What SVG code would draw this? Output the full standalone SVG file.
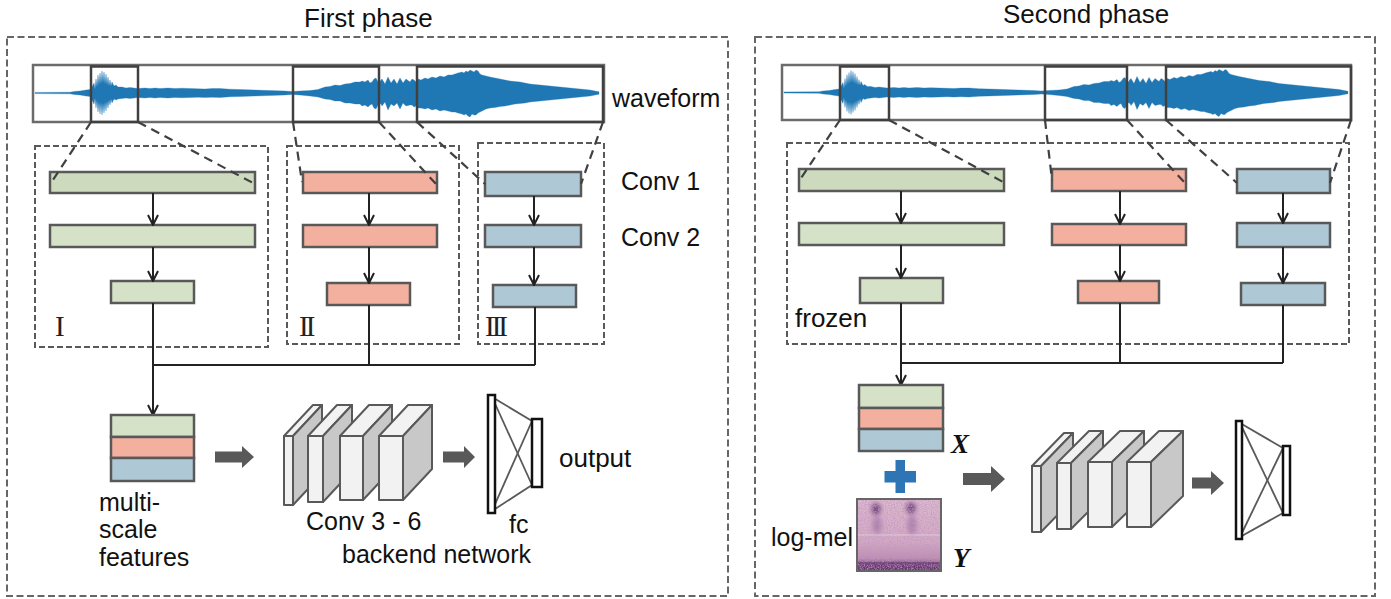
<svg xmlns="http://www.w3.org/2000/svg" width="1391" height="599" viewBox="0 0 1391 599">
<style>
.t{font-family:"Liberation Sans",Arial,sans-serif;font-size:25px;fill:#111}
.title{font-size:26px}
.rom{font-family:"Liberation Serif","Times New Roman",serif;font-size:29px;fill:#222;letter-spacing:-3px}
.xy{font-family:"Liberation Serif","Times New Roman",serif;font-size:27px;font-weight:bold;font-style:italic;fill:#111}
.panel{fill:none;stroke:#666;stroke-width:2;stroke-dasharray:7 3.5}
.sub{fill:none;stroke:#595959;stroke-width:2;stroke-dasharray:6 3}
.g1{fill:#cddabd;stroke:#595959;stroke-width:2.5}
.g{fill:#d5e2c7;stroke:#595959;stroke-width:2.5}
.r{fill:#f4b09f;stroke:#595959;stroke-width:2.5}
.b{fill:#afc8d6;stroke:#595959;stroke-width:2.5}
.wbox{fill:#fff;stroke:#6b6b6b;stroke-width:2.5}
.sel{fill:none;stroke:#404040;stroke-width:2.5}
.zoom{fill:none;stroke:#404040;stroke-width:2.2;stroke-dasharray:9 6}
.con{fill:none;stroke:#222;stroke-width:2}
.arr{marker-end:url(#ah)}
.front{fill:#f2f2f2;stroke:#595959;stroke-width:2;stroke-linejoin:round}
.side{fill:#c8c8c8;stroke:#595959;stroke-width:2;stroke-linejoin:round}
.garrow{fill:#595959}
.fcr{fill:#fff;stroke:#111;stroke-width:2.5}
.fcl{stroke:#595959;stroke-width:1.8}
.wave{fill:#1f77b4;stroke:#1f77b4;stroke-width:0.5;stroke-opacity:0.6}
</style>
<defs>
<marker id="ah" markerUnits="userSpaceOnUse" viewBox="0 0 12 12" refX="11" refY="6" markerWidth="12" markerHeight="12" orient="auto">
<path d="M1,1 L11,6 L1,11" fill="none" stroke="#222" stroke-width="2"/>
</marker>
<path id="wave" class="wave" d="M35,92.4 L70,92.2 74,91.5 80,91 86,90 90,89.5 92,87 94,83 95,89 96,79 97,87 98,75 99,85 100,73 101,84 102,71 103,83 104,72 105,84 106,74 107,85 108,77 109,86 110,80 111,86 112,82 114,86 116,85 118,87 122,87 126,88 130,87.5 134,88 138,88.5 145,88 150,88.5 155,88 160,88.5 168,88 175,88.5 182,88.2 190,88.5 198,88.8 205,89 212,88.6 220,88.5 230,89.2 240,89.5 248,89.8 255,90 262,90.3 270,90.5 278,90.8 285,91 292,91.5 300,91 310,90.5 318,89.5 325,87 330,86.5 335,85 340,85.5 345,84 350,83.5 355,82 360,82 362,81 365,82 368,80 370,83 372,82 374,79 376,78 378,82 379,83 381,80 382,79 385,84 388,77 391,83 394,79 397,84 400,78 403,83 406,79 410,82 412,79 414,80 416,82 418,79 421,80 425,78 428,79 432,77 436,78 440,76 444,77 448,75 452,75 455,74 458,73 462,72 464,73 466,71 468,72 470,70 472,71 474,72 476,70 478,71 480,74 482,75 486,76 490,77 495,78 500,79 505,80 510,81 515,81.5 520,82 525,83 530,84 535,84.5 540,85 545,85.5 550,86 555,86.5 560,87 565,87.5 570,88 575,88.5 580,89 585,89.5 590,90 595,91 599,91.8 L599,94.2 595,95 590,96 585,96.5 580,97 575,97.5 570,98 565,98.5 560,99 555,99.5 550,100 545,100.5 540,101 535,101.5 530,102 525,103 520,103.5 515,104 510,105 505,106 500,106.5 495,107.5 490,108 486,109 482,111 480,112 478,113 476,115 474,115 472,114 470,117 468,116 466,114 464,115 462,114 458,113 455,112 452,112 448,111 444,110 440,111 436,109 432,110 428,108 425,109 421,108 418,108 416,106 414,107 412,105 410,105 406,106 403,103 400,109 397,103 394,106 391,104 388,110 385,102 382,106 381,104 379,103 378,105 376,109 374,108 372,104 370,105 368,107 365,105 362,106 360,104 355,104 350,103 345,103 340,101 335,101 330,99.5 325,99 318,97 310,96 300,95 292,94.5 285,95 278,95.2 270,95.5 262,95.8 255,96 248,96.2 240,96.5 230,96.8 220,97.5 212,97.2 205,97.5 198,97.2 190,97.5 182,97.8 175,97.5 168,98 160,97.5 155,98 150,97.5 145,98 138,97.5 134,98 130,98.5 126,98 122,98.5 118,99 116,100 114,99 112,103 111,99 110,105 109,100 108,108 107,101 106,111 105,102 104,113 103,103 102,115 101,102 100,114 99,102 98,112 97,100 96,108 95,98 94,104 92,100 90,96.5 86,96 80,95 74,94.5 70,93.8 35,93.6 Z"/>
<linearGradient id="specgrad" x1="0" y1="0" x2="0" y2="1">
<stop offset="0" stop-color="#dcbccd"/>
<stop offset="0.6" stop-color="#d2aac2"/>
<stop offset="0.82" stop-color="#bb8db0"/>
<stop offset="1" stop-color="#6e3e76"/>
</linearGradient>
<clipPath id="specclip"><rect x="857" y="499" width="84" height="72"/></clipPath>
<filter id="blur" x="-50%" y="-50%" width="200%" height="200%"><feGaussianBlur stdDeviation="2"/></filter>
<filter id="noise" x="0" y="0" width="100%" height="100%">
<feTurbulence type="fractalNoise" baseFrequency="0.7" numOctaves="2" seed="4"/>
<feColorMatrix type="matrix" values="0 0 0 0 0.55  0 0 0 0 0.3  0 0 0 0 0.55  2 0 0 0 -0.75"/>
</filter>
</defs>

<!-- panels -->
<g id="panel-first">
<rect class="panel" x="7" y="37" width="721" height="559"/>
<text class="t title" x="304" y="27">First phase</text>
</g>
<g id="panel-second">
<rect class="panel" x="755" y="37" width="620" height="559"/>
<text class="t title" x="1003" y="23">Second phase</text>
</g>

<!-- left waveform -->
<g id="waveform-1">
<rect class="wbox" x="33" y="65" width="571" height="57"/>
<use href="#wave"/>
<rect class="sel" x="91" y="66.5" width="47" height="55.5"/>
<rect class="sel" x="293" y="66.5" width="86" height="55.5"/>
<rect class="sel" x="417" y="66.5" width="186" height="55.5"/>
<text class="t" x="612" y="107">waveform</text>
</g>

<!-- right waveform -->
<g id="waveform-2">
<rect class="wbox" x="782" y="65" width="569" height="55"/>
<use href="#wave" transform="translate(749,-0.5)"/>
<rect class="sel" x="840" y="66.5" width="49" height="53.5"/>
<rect class="sel" x="1045" y="66.5" width="82" height="53.5"/>
<rect class="sel" x="1166" y="66.5" width="185" height="53.5"/>
</g>

<!-- sub boxes -->
<g id="box-I"><rect class="sub" x="35" y="146" width="233" height="201"/><text class="rom" x="55" y="336">I</text></g>
<g id="box-II"><rect class="sub" x="287" y="146" width="172" height="198"/><text class="rom" x="299" y="336">II</text></g>
<g id="box-III"><rect class="sub" x="478" y="143" width="126" height="201"/><text class="rom" x="485" y="336">III</text></g>
<g id="box-frozen"><rect class="sub" x="787" y="143" width="562" height="201"/><text class="t" x="795" y="327" style="font-size:26px">frozen</text></g>

<!-- left branch nodes -->
<g id="L-green-conv1"><rect class="g1" x="50" y="172" width="205" height="21"/></g>
<g id="L-green-conv2"><rect class="g" x="50" y="225" width="205" height="22"/></g>
<g id="L-green-out"><rect class="g" x="111" y="281" width="83" height="22"/></g>
<g id="L-red-conv1"><rect class="r" x="303" y="172" width="134" height="21"/></g>
<g id="L-red-conv2"><rect class="r" x="303" y="225" width="134" height="22"/></g>
<g id="L-red-out"><rect class="r" x="327" y="283" width="83" height="22"/></g>
<g id="L-blue-conv1"><rect class="b" x="485" y="172" width="96" height="24"/></g>
<g id="L-blue-conv2"><rect class="b" x="485" y="225" width="96" height="22"/></g>
<g id="L-blue-out"><rect class="b" x="493" y="285" width="83" height="22"/></g>
<g id="labels-conv"><text class="t" x="621" y="190">Conv 1</text><text class="t" x="621" y="246">Conv 2</text></g>

<!-- right branch nodes -->
<g id="R-green-conv1"><rect class="g1" x="799" y="169" width="205" height="22"/></g>
<g id="R-green-conv2"><rect class="g" x="799" y="223" width="205" height="22"/></g>
<g id="R-green-out"><rect class="g" x="860" y="278" width="83" height="25"/></g>
<g id="R-red-conv1"><rect class="r" x="1052" y="169" width="134" height="22"/></g>
<g id="R-red-conv2"><rect class="r" x="1052" y="224" width="134" height="21"/></g>
<g id="R-red-out"><rect class="r" x="1078" y="281" width="81" height="22"/></g>
<g id="R-blue-conv1"><rect class="b" x="1237" y="169" width="93" height="24"/></g>
<g id="R-blue-conv2"><rect class="b" x="1237" y="223" width="93" height="24"/></g>
<g id="R-blue-out"><rect class="b" x="1241" y="283" width="84" height="22"/></g>

<!-- connectors -->
<g id="connectors">
<line class="zoom" x1="91" y1="122" x2="51" y2="183"/>
<line class="zoom" x1="138" y1="122" x2="255" y2="184"/>
<line class="zoom" x1="293" y1="122" x2="302" y2="182"/>
<line class="zoom" x1="379" y1="122" x2="436" y2="184"/>
<line class="zoom" x1="417" y1="122" x2="485" y2="184"/>
<line class="zoom" x1="603" y1="122" x2="581" y2="184"/>
<line class="zoom" x1="840" y1="120" x2="799" y2="181"/>
<line class="zoom" x1="889" y1="120" x2="1003" y2="182"/>
<line class="zoom" x1="1045" y1="120" x2="1052" y2="180"/>
<line class="zoom" x1="1127" y1="120" x2="1185" y2="183"/>
<line class="zoom" x1="1166" y1="120" x2="1237" y2="183"/>
<line class="zoom" x1="1351" y1="120" x2="1330" y2="183"/>

<line class="con arr" x1="153" y1="193" x2="153" y2="225"/>
<line class="con arr" x1="153" y1="247" x2="153" y2="281"/>
<line class="con arr" x1="369" y1="193" x2="369" y2="225"/>
<line class="con arr" x1="369" y1="247" x2="369" y2="283"/>
<line class="con arr" x1="534" y1="196" x2="534" y2="225"/>
<line class="con arr" x1="534" y1="247" x2="534" y2="285"/>
<line class="con arr" x1="153" y1="303" x2="153" y2="415"/>
<line class="con" x1="369" y1="305" x2="369" y2="365"/>
<line class="con" x1="535" y1="307" x2="535" y2="365"/>
<line class="con" x1="153" y1="365" x2="535" y2="365"/>

<line class="con arr" x1="901" y1="191" x2="901" y2="223"/>
<line class="con arr" x1="901" y1="245" x2="901" y2="278"/>
<line class="con arr" x1="1120" y1="191" x2="1120" y2="224"/>
<line class="con arr" x1="1120" y1="245" x2="1120" y2="281"/>
<line class="con arr" x1="1283" y1="193" x2="1283" y2="223"/>
<line class="con arr" x1="1283" y1="247" x2="1283" y2="283"/>
<line class="con arr" x1="901" y1="303" x2="901" y2="385"/>
<line class="con" x1="1120" y1="303" x2="1120" y2="363"/>
<line class="con" x1="1283" y1="305" x2="1283" y2="363"/>
<line class="con" x1="901" y1="363" x2="1283" y2="363"/>

<polygon class="garrow" points="215,451.5 242,451.5 242,446 254,457 242,468 242,462.5 215,462.5"/>
<polygon class="garrow" points="443,451.5 464,451.5 464,446 475,457 464,468 464,462.5 443,462.5"/>
<polygon class="garrow" points="963,473 991,473 991,466 1005,479 991,492 991,485 963,485"/>
<polygon class="garrow" points="1192,477.5 1211,477.5 1211,471 1224,483 1211,495 1211,488.5 1192,488.5"/>
</g>

<!-- left multi-scale stack -->
<g id="L-stack">
<rect class="g" x="111" y="415" width="83" height="22"/>
<rect class="r" x="111" y="437" width="83" height="21"/>
<rect class="b" x="111" y="458" width="83" height="23"/>
<text class="t" x="99" y="511">multi-</text>
<text class="t" x="99" y="538">scale</text>
<text class="t" x="99" y="566">features</text>
</g>

<!-- left backend -->
<g id="L-backend">
<polygon class="front" points="284,436 313,405 322,405 293,436"/>
<polygon class="side" points="293,436 322,405 322,474 293,505"/>
<rect class="front" x="284" y="436" width="9" height="69"/>
<polygon class="front" points="308,436 337,405 352,405 323,436"/>
<polygon class="side" points="323,436 352,405 352,471 323,502"/>
<rect class="front" x="308" y="436" width="15" height="66"/>
<polygon class="front" points="340,436 369,405 392,405 363,436"/>
<polygon class="side" points="363,436 392,405 392,469 363,500"/>
<rect class="front" x="340" y="436" width="23" height="64"/>
<polygon class="front" points="379,436 408,405 432,405 403,436"/>
<polygon class="side" points="403,436 432,405 432,469 403,500"/>
<rect class="front" x="379" y="436" width="24" height="64"/>
<text class="t" x="306" y="530">Conv 3 - 6</text>
<text class="t" x="342" y="563">backend network</text>
</g>

<g id="L-fc">
<line class="fcl" x1="492" y1="397" x2="532" y2="421"/>
<line class="fcl" x1="492" y1="397" x2="532" y2="485"/>
<line class="fcl" x1="492" y1="511" x2="532" y2="421"/>
<line class="fcl" x1="492" y1="511" x2="532" y2="485"/>
<rect class="fcr" x="488" y="395" width="7" height="118"/>
<rect class="fcr" x="532" y="419" width="10" height="68"/>
<text class="t" x="509" y="533">fc</text>
<text class="t" x="559" y="467" style="font-size:26px">output</text>
</g>

<!-- right inputs -->
<g id="R-stack">
<rect class="g" x="859" y="385" width="84" height="23"/>
<rect class="r" x="859" y="408" width="84" height="21"/>
<rect class="b" x="859" y="429" width="84" height="22"/>
<text class="xy" x="951" y="453">X</text>
</g>
<g id="plus">
<rect x="884.5" y="471" width="31.5" height="11.5" fill="#2e75b6"/>
<rect x="895.5" y="460" width="9.5" height="33" fill="#2e75b6"/>
</g>
<g id="logmel">
<rect x="857" y="499" width="84" height="72" fill="url(#specgrad)"/>
<g clip-path="url(#specclip)">
<g filter="url(#blur)">
<ellipse cx="876" cy="509" rx="5" ry="6" fill="#5d2c69" opacity="0.8"/>
<ellipse cx="877" cy="525" rx="5" ry="9" fill="#8b5b93" opacity="0.55"/>
<ellipse cx="911" cy="508" rx="5" ry="6" fill="#5d2c69" opacity="0.8"/>
<ellipse cx="912" cy="525" rx="5" ry="10" fill="#8b5b93" opacity="0.55"/>
<rect x="855" y="563" width="88" height="10" fill="#5a2b65" opacity="0.75"/>
</g>
<rect x="857" y="499" width="84" height="72" filter="url(#noise)"/>
<line x1="857" y1="535" x2="941" y2="535" stroke="#f0e0ea" stroke-width="0.8" opacity="0.7"/>
<line x1="857" y1="563" x2="941" y2="563" stroke="#4a2055" stroke-width="1.2" opacity="0.7"/>
</g>
<rect x="857" y="499" width="84" height="72" fill="none" stroke="#666" stroke-width="2"/>
<text class="t" x="771" y="546">log-mel</text>
<text class="xy" x="953" y="567">Y</text>
</g>

<!-- right backend -->
<g id="R-backend">
<polygon class="front" points="1032,466 1064,433 1073,433 1041,466"/>
<polygon class="side" points="1041,466 1073,433 1073,499 1041,532"/>
<rect class="front" x="1032" y="466" width="9" height="66"/>
<polygon class="front" points="1057,463 1089,431 1103,431 1071,463"/>
<polygon class="side" points="1071,463 1103,431 1103,497 1071,529"/>
<rect class="front" x="1057" y="463" width="14" height="66"/>
<polygon class="front" points="1088,462 1120,431 1144,431 1112,462"/>
<polygon class="side" points="1112,462 1144,431 1144,496 1112,527"/>
<rect class="front" x="1088" y="462" width="24" height="65"/>
<polygon class="front" points="1127,462 1159,431 1183,431 1151,462"/>
<polygon class="side" points="1151,462 1183,431 1183,496 1151,527"/>
<rect class="front" x="1127" y="462" width="24" height="65"/>
</g>
<g id="R-fc">
<line class="fcl" x1="1240" y1="423" x2="1283" y2="448"/>
<line class="fcl" x1="1240" y1="423" x2="1283" y2="513"/>
<line class="fcl" x1="1240" y1="537" x2="1283" y2="448"/>
<line class="fcl" x1="1240" y1="537" x2="1283" y2="513"/>
<rect class="fcr" x="1236" y="421" width="6" height="118"/>
<rect class="fcr" x="1283" y="446" width="7" height="69"/>
</g>
</svg>
